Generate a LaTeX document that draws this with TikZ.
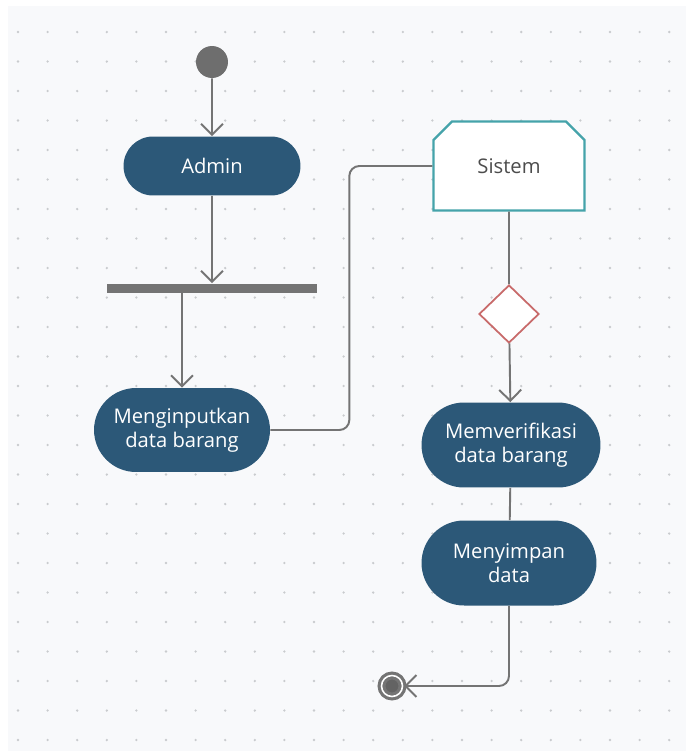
\documentclass[tikz,border=0pt]{standalone}
\usepackage{fontspec}
\newfontfamily\diagfont{Open Sans}
\usetikzlibrary{shapes.misc,shapes.geometric,arrows.meta,positioning}

\definecolor{nodeblue}{HTML}{2C5878}
\definecolor{linegray}{HTML}{747474}
\definecolor{tealline}{HTML}{45A3AA}
\definecolor{redline}{HTML}{C86A6A}
\definecolor{canvas}{HTML}{F8F9FB}
\definecolor{dotgray}{HTML}{C9CBCE}

\begin{document}
\begin{tikzpicture}[x=0.02cm,y=-0.02cm,
    font=\diagfont\fontsize{11.5}{13.5}\selectfont,
    action/.style={rounded rectangle,fill=nodeblue,text=white,align=center,inner sep=2pt},
    flow/.style={draw=linegray,line width=1.1pt},
    flowarrow/.style={flow,-{Straight Barb[length=2.2mm,width=4.4mm,line width=1.1pt]}}]

\useasboundingbox (0,0) rectangle (686,751);
\fill[white] (0,0) rectangle (686,751);
\fill[canvas] (8,6) rectangle (686,751);
% dotted grid
\foreach \i in {0,...,22}
    \foreach \j in {0,...,24}
        \fill[dotgray] ({18+29.6*\i},{32+29.5*\j}) circle (0.026cm);

\node[circle,fill=linegray!95!black,minimum size=0.64cm,inner sep=0] (start) at (212,62) {};
\node[action,minimum width=3.68cm,minimum height=1.18cm] (admin) at (212,166) {Admin};
\node[rectangle,fill=linegray,minimum width=4.2cm,minimum height=0.18cm,inner sep=0] (bar) at (212,288) {};
\node[action,minimum width=3.66cm,minimum height=1.68cm] (input) at (182,430) {Menginputkan\\data barang};

\node[chamfered rectangle,chamfered rectangle corners={north west,north east},chamfered rectangle xsep=0.28cm,
      draw=tealline,line width=1.3pt,fill=white,text=black!70,minimum width=3.02cm,minimum height=1.78cm] (sistem) at (509,166) {Sistem};
\node[diamond,draw=redline,line width=1pt,fill=white,minimum width=1.2cm,minimum height=1.16cm,inner sep=0] (cek) at (509,314) {};
\node[action,minimum width=3.72cm,minimum height=1.7cm] (verif) at (511,445) {Memverifikasi\\data barang};
\node[action,minimum width=3.64cm,minimum height=1.7cm] (simpan) at (509,563) {Menyimpan\\data};

\node[circle,draw=linegray,line width=1.8pt,double=white,double distance=0.9pt,fill=linegray!85!black,minimum size=0.42cm,inner sep=0] (end) at (392,686) {};

\draw[flowarrow] (start) -- (admin);
\draw[flowarrow] (admin) -- (bar);
\draw[flowarrow] (input.north |- bar.south) -- (input);
\draw[flow,rounded corners=0.2cm] (input.east) -- ++(79,0) |- (sistem.west);
\draw[flow] (sistem) -- (cek);
\draw[flowarrow] (cek) -- (verif);
\draw[flow] (verif) -- (simpan);
\draw[flowarrow,rounded corners=0.2cm] (simpan.south) |- (end.east);
\end{tikzpicture}
\end{document}
